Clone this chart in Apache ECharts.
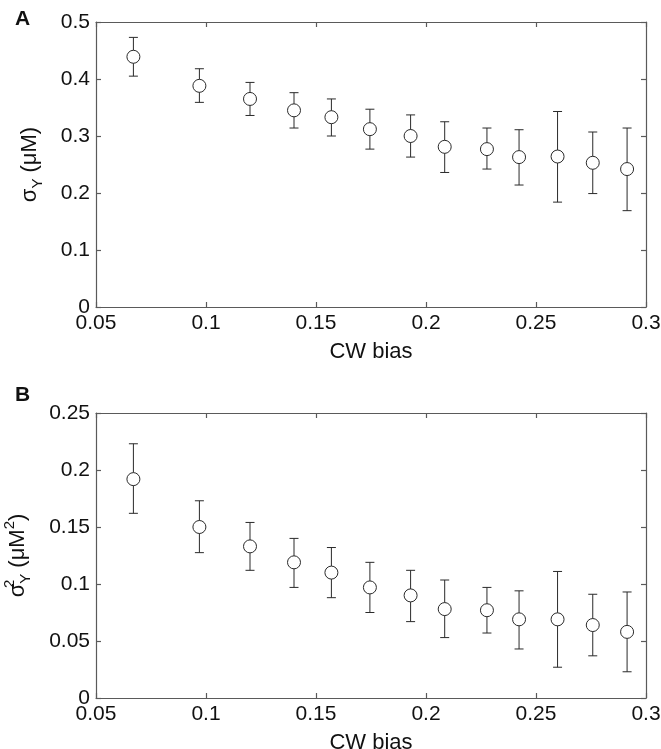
<!DOCTYPE html>
<html>
<head>
<meta charset="utf-8">
<script src="https://cdn.jsdelivr.net/npm/echarts@6/dist/echarts.min.js"></script>
<style>
html,body{margin:0;padding:0;background:#fff;}
#chart{width:661px;height:749px;}
</style>
</head>
<body>
<div id="chart"></div>
<script>
// CW bias (x values, shared by both panels)
const xBias = [0.067, 0.097, 0.120, 0.140, 0.157, 0.1745, 0.193, 0.2085, 0.2277, 0.2423, 0.2598, 0.2758, 0.2914];
// Panel A: sigma_Y (uM)
const sigmaMean  = [0.439, 0.388, 0.365, 0.345, 0.333, 0.312, 0.300, 0.281, 0.277, 0.263, 0.264, 0.253, 0.242];
const sigmaUpper = [0.473, 0.418, 0.394, 0.376, 0.365, 0.347, 0.337, 0.325, 0.314, 0.311, 0.343, 0.307, 0.314];
const sigmaLower = [0.405, 0.359, 0.336, 0.314, 0.300, 0.277, 0.263, 0.236, 0.242, 0.214, 0.184, 0.199, 0.169];
// Panel B: sigma_Y^2 (uM^2)
const varMean  = [0.192, 0.150, 0.133, 0.119, 0.110, 0.097, 0.090, 0.078, 0.077, 0.069, 0.069, 0.064, 0.058];
const varUpper = [0.223, 0.173, 0.154, 0.140, 0.132, 0.119, 0.112, 0.1035, 0.097, 0.094, 0.111, 0.091, 0.093];
const varLower = [0.162, 0.1275, 0.112, 0.097, 0.088, 0.075, 0.067, 0.053, 0.057, 0.043, 0.027, 0.037, 0.023];
// Axis ranges / ticks
const xRange = {min: 0.05, max: 0.3, interval: 0.05};
const yRangeA = {min: 0, max: 0.5, interval: 0.1};
const yRangeB = {min: 0, max: 0.25, interval: 0.05};

const FONT = '"Liberation Sans", Arial, Helvetica, sans-serif';
const AXIS_COLOR = '#5a5a5a';
const MARK_COLOR = '#2a2a2a';

const chart = echarts.init(document.getElementById('chart'), null, {renderer: 'canvas'});

function mainX(grid) {
  return {
    type: 'value', gridIndex: grid, position: 'bottom',
    min: xRange.min, max: xRange.max, interval: xRange.interval,
    name: 'CW bias', nameLocation: 'middle', nameGap: 34,
    nameTextStyle: {fontFamily: FONT, fontSize: 22, color: '#111'},
    axisLine: {show: true, onZero: false, lineStyle: {color: AXIS_COLOR, width: 1.2}},
    axisTick: {show: true, inside: true, length: 5, lineStyle: {color: AXIS_COLOR, width: 1.2}},
    axisLabel: {show: true, margin: 6, fontFamily: FONT, fontSize: 21, color: '#111'},
    splitLine: {show: false}
  };
}
function mirrorX(grid) {
  return {
    type: 'value', gridIndex: grid, position: 'top',
    min: xRange.min, max: xRange.max, interval: xRange.interval,
    axisLine: {show: true, onZero: false, lineStyle: {color: AXIS_COLOR, width: 1.2}},
    axisTick: {show: true, inside: true, length: 5, lineStyle: {color: AXIS_COLOR, width: 1.2}},
    axisLabel: {show: false},
    splitLine: {show: false}
  };
}
function mainY(grid, r, name, gap) {
  return {
    type: 'value', gridIndex: grid, position: 'left',
    min: r.min, max: r.max, interval: r.interval,
    name: name, nameLocation: 'middle', nameGap: gap,
    nameTextStyle: {
      fontFamily: FONT, fontSize: 22, color: '#111',
      rich: {
        s: {fontFamily: FONT, fontSize: 22, color: '#111', lineHeight: 31, verticalAlign: 'middle'},
        sub: {fontFamily: FONT, fontSize: 15, color: '#111', lineHeight: 15, verticalAlign: 'bottom'},
        sup: {fontFamily: FONT, fontSize: 15, color: '#111', lineHeight: 15, verticalAlign: 'top'},
        supz: {fontFamily: FONT, fontSize: 15, color: '#111', lineHeight: 15, verticalAlign: 'top', width: 0.01}
      }
    },
    axisLine: {show: true, onZero: false, lineStyle: {color: AXIS_COLOR, width: 1.2}},
    axisTick: {show: true, inside: true, length: 5, lineStyle: {color: AXIS_COLOR, width: 1.2}},
    axisLabel: {show: true, margin: 6, fontFamily: FONT, fontSize: 21, color: '#111'},
    splitLine: {show: false}
  };
}
function mirrorY(grid, r) {
  return {
    type: 'value', gridIndex: grid, position: 'right',
    min: r.min, max: r.max, interval: r.interval,
    axisLine: {show: true, onZero: false, lineStyle: {color: AXIS_COLOR, width: 1.2}},
    axisTick: {show: true, inside: true, length: 5, lineStyle: {color: AXIS_COLOR, width: 1.2}},
    axisLabel: {show: false},
    splitLine: {show: false}
  };
}

function errorBarItem(params, api) {
  const x = api.value(0), lo = api.value(1), hi = api.value(2);
  const pTop = api.coord([x, hi]);
  const pBot = api.coord([x, lo]);
  const hw = 4.5;
  const st = {stroke: MARK_COLOR, lineWidth: 1};
  return {
    type: 'group',
    children: [
      {type: 'line', shape: {x1: pTop[0], y1: pTop[1], x2: pBot[0], y2: pBot[1]}, style: st},
      {type: 'line', shape: {x1: pTop[0] - hw, y1: pTop[1], x2: pTop[0] + hw, y2: pTop[1]}, style: st},
      {type: 'line', shape: {x1: pBot[0] - hw, y1: pBot[1], x2: pBot[0] + hw, y2: pBot[1]}, style: st}
    ]
  };
}

const errA = xBias.map((x, i) => [x, sigmaLower[i], sigmaUpper[i]]);
const errB = xBias.map((x, i) => [x, varLower[i], varUpper[i]]);
const ptsA = xBias.map((x, i) => [x, sigmaMean[i]]);
const ptsB = xBias.map((x, i) => [x, varMean[i]]);

const option = {
  animation: false,
  backgroundColor: '#fff',
  title: [
    {text: 'A', left: 10, top: 4, textStyle: {fontFamily: FONT, fontSize: 21, fontWeight: 'bold', color: '#111'}},
    {text: 'B', left: 10, top: 380, textStyle: {fontFamily: FONT, fontSize: 21, fontWeight: 'bold', color: '#111'}}
  ],
  grid: [
    {left: 96, top: 22, width: 550, height: 285, containLabel: false, outerBoundsMode: 'none'},
    {left: 96, top: 413, width: 550, height: 285, containLabel: false, outerBoundsMode: 'none'}
  ],
  xAxis: [mainX(0), mirrorX(0), mainX(1), mirrorX(1)],
  yAxis: [
    mainY(0, yRangeA, '{s|σ}{sub|Y}{s| (μM)}', 51),
    mirrorY(0, yRangeA),
    mainY(1, yRangeB, '{s|σ}{supz|2}{sub|Y}{s| (μM}{sup|2}{s|)}', 63),
    mirrorY(1, yRangeB)
  ],
  series: [
    {type: 'custom', xAxisIndex: 0, yAxisIndex: 0, renderItem: errorBarItem, data: errA, z: 2},
    {type: 'scatter', xAxisIndex: 0, yAxisIndex: 0, data: ptsA, symbol: 'circle', symbolSize: 13,
      itemStyle: {color: '#fff', borderColor: MARK_COLOR, borderWidth: 1, opacity: 1}, z: 3},
    {type: 'custom', xAxisIndex: 2, yAxisIndex: 2, renderItem: errorBarItem, data: errB, z: 2},
    {type: 'scatter', xAxisIndex: 2, yAxisIndex: 2, data: ptsB, symbol: 'circle', symbolSize: 13,
      itemStyle: {color: '#fff', borderColor: MARK_COLOR, borderWidth: 1, opacity: 1}, z: 3}
  ]
};
chart.setOption(option);
</script>
</body>
</html>
